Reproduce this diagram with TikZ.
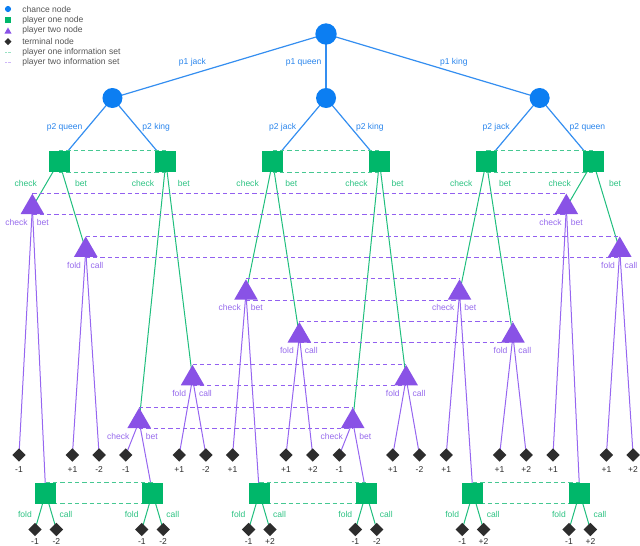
\documentclass[tikz,border=0pt]{standalone}
\usepackage{fontspec}
\setmainfont{Liberation Sans}
\usetikzlibrary{positioning,calc,shapes.geometric,backgrounds}
\definecolor{chanceblue}{RGB}{12,126,242}
\definecolor{chanceline}{RGB}{52,142,240}
\definecolor{chancetext}{RGB}{40,132,236}
\definecolor{onegreen}{RGB}{0,183,106}
\definecolor{oneline}{RGB}{32,190,126}
\definecolor{onetext}{RGB}{44,194,130}
\definecolor{onedash}{RGB}{70,200,146}
\definecolor{twopurple}{RGB}{137,82,230}
\definecolor{twoline}{RGB}{150,102,240}
\definecolor{twotext}{RGB}{150,106,236}
\definecolor{twodash}{RGB}{146,96,240}
\definecolor{termgray}{RGB}{45,45,45}
\definecolor{keygray}{RGB}{85,85,85}
\newcommand{\tagfont}{\fontsize{6.4}{7.5}\selectfont}
\tikzset{%
  chance/.style = {circle,fill=chanceblue,inner sep=0pt,minimum size=15pt},
  pone/.style = {rectangle,fill=onegreen,inner sep=0pt,minimum size=15.75pt},
  ptwo/.style = {regular polygon,regular polygon sides=3,fill=twopurple,
        inner sep=0pt,minimum size=20.4pt},
  term/.style = {diamond,fill=termgray,inner sep=0pt,minimum size=10.2pt},
  chancearrow/.style = {draw=chanceline,line width=0.9pt},
  onearrow/.style = {draw=oneline,line width=0.75pt},
  twoarrow/.style = {draw=twoline,line width=0.75pt},
  oneset/.style = {draw=onedash,line width=0.7pt,dash pattern=on 3.2pt off 2.3pt},
  twoset/.style = {draw=twodash,line width=0.7pt,dash pattern=on 3.2pt off 2.3pt},
  tagL/.style = {anchor=east,inner sep=0pt,xshift=-#1},
  tagR/.style = {anchor=west,inner sep=0pt,xshift=#1},
  chancetag/.style = {text=chancetext},
  onetag/.style = {text=onetext},
  twotag/.style = {text=twotext},
  payoff/.style = {text=termgray,inner sep=0pt},
  keytext/.style = {text=keygray,anchor=west,inner sep=0pt}
}

\begin{document}
\begin{tikzpicture}[x=0.75pt,y=-0.75pt,font=\tagfont]
\useasboundingbox (0,0) rectangle (640,546);

% key
\node[chance,minimum size=4.6pt] (keychance) at (8,9) {};
\node[pone,minimum size=4.6pt] (keyone) at (8,20) {};
\node[ptwo,minimum size=6.2pt] (keytwo) at (8,31.6) {};
\node[term,minimum size=5.4pt] (keyterm) at (8,41.7) {};
\coordinate (keyonea) at (5,52.3);
\coordinate (keyoneb) at (11,52.3);
\coordinate (keytwoa) at (5,62.3);
\coordinate (keytwob) at (11,62.3);
\draw[oneset,draw=onedash!55,dash pattern=on 1.6pt off 1pt] (keyonea) -- (keyoneb);
\draw[twoset,draw=twodash!45,dash pattern=on 1.6pt off 1pt] (keytwoa) -- (keytwob);
\foreach \y/\txt [count=\n] in {9/chance node,20/player one node,
    30.7/player two node,41.7/terminal node,
    52.3/player one information set,62.3/player two information set}
  \node[keytext] (key\n) at (22,\y) {\txt};

% chance nodes
\node[chance,minimum size=16pt] (root) at (326.05,34) {};
\node[chance] (cj) at (112.45,98) {};
\node[chance] (cq) at (326.05,98) {};
\node[chance] (ck) at (539.65,98) {};

% one block per deal: leaves sit on columns 26.7 apart
\foreach \i/\mc/\mb/\vc/\vb/\vd in {1/0/1/-1/-2/-2,2/5/4/-1/-2/-2,
    3/2/3/+1/+2/+2,4/5/4/-1/-2/-2,5/2/3/+1/+2/+2,6/0/1/+1/+2/+2}{
  \pgfmathsetmacro\xleaf{19+106.8*(\i-1)}
  \pgfmathsetmacro\ycheck{207.3+42.8*\mc}
  \pgfmathsetmacro\ybet{207.3+42.8*\mb}
  \pgfmathsetmacro\posac{21.5/(\ycheck-161.5)}
  \pgfmathsetmacro\posab{21.5/(\ybet-161.5)}
  \pgfmathsetmacro\posce{15/(455-\ycheck)}
  \pgfmathsetmacro\poscd{15/(493-\ycheck)}
  \pgfmathsetmacro\posbe{15/(455-\ybet)}
  \node[pone] (a\i) at (\xleaf+40.05,161.5) {};
  \node[ptwo] (tc\i) at (\xleaf+13.35,\ycheck) {};
  \node[ptwo] (tb\i) at (\xleaf+66.75,\ybet) {};
  \node[pone] (d\i) at (\xleaf+26.7,493) {};
  \node[term] (ec\i) at (\xleaf,455) {};
  \node[term] (ef\i) at (\xleaf+53.4,455) {};
  \node[term] (el\i) at (\xleaf+80.1,455) {};
  \node[term] (gf\i) at (\xleaf+16,529.5) {};
  \node[term] (gl\i) at (\xleaf+37.4,529.5) {};
  \node[payoff,below=3.4pt of ec\i] (vec\i) {\vc};
  \node[payoff,below=3.4pt of ef\i] (vef\i) {+1};
  \node[payoff,below=3.4pt of el\i] (vel\i) {\vb};
  \node[payoff,below=1.4pt of gf\i] (vgf\i) {-1};
  \node[payoff,below=1.4pt of gl\i] (vgl\i) {\vd};
  \begin{scope}[on background layer]
    \draw[onearrow] (a\i.center) -- (tc\i.center)
      node[pos=\posac,onetag,tagL=6.75pt] {check};
    \draw[onearrow] (a\i.center) -- (tb\i.center)
      node[pos=\posab,onetag,tagR=6.75pt] {bet};
    \draw[twoarrow] (tc\i.center) -- (ec\i.center)
      node[pos=\posce,twotag,tagL=2.5pt] {check};
    \draw[twoarrow] (tc\i.center) -- (d\i.center)
      node[pos=\poscd,twotag,tagR=2.5pt] {bet};
    \draw[twoarrow] (tb\i.center) -- (ef\i.center)
      node[pos=\posbe,twotag,tagL=2.5pt] {fold};
    \draw[twoarrow] (tb\i.center) -- (el\i.center)
      node[pos=\posbe,twotag,tagR=2.5pt] {call};
    \draw[onearrow] (d\i.center) -- (gf\i.center)
      node[pos=0.595,onetag,tagL=5.25pt] {fold};
    \draw[onearrow] (d\i.center) -- (gl\i.center)
      node[pos=0.595,onetag,tagR=5.25pt] {call};
  \end{scope}
}

\begin{scope}[on background layer]
  \draw[chancearrow] (root.center) -- (cj.center)
    node[pos=0.4375,chancetag,tagL=19.5pt] {p1 jack};
  \draw[chancearrow] (root.center) -- (cq.center)
    node[pos=0.4375,chancetag,tagL=3pt] {p1 queen};
  \draw[chancearrow] (root.center) -- (ck.center)
    node[pos=0.4375,chancetag,tagR=15pt] {p1 king};
  \draw[chancearrow] (cj.center) -- (a1.center)
    node[pos=0.457,chancetag,tagL=3.75pt] {p2 queen};
  \draw[chancearrow] (cj.center) -- (a2.center)
    node[pos=0.457,chancetag,tagR=3.75pt] {p2 king};
  \draw[chancearrow] (cq.center) -- (a3.center)
    node[pos=0.457,chancetag,tagL=3.75pt] {p2 jack};
  \draw[chancearrow] (cq.center) -- (a4.center)
    node[pos=0.457,chancetag,tagR=3.75pt] {p2 king};
  \draw[chancearrow] (ck.center) -- (a5.center)
    node[pos=0.457,chancetag,tagL=3.75pt] {p2 jack};
  \draw[chancearrow] (ck.center) -- (a6.center)
    node[pos=0.457,chancetag,tagR=3.75pt] {p2 queen};
  % information sets
  \foreach \l/\r in {a1/a2,a3/a4,a5/a6,d1/d2,d3/d4,d5/d6}
    \draw[oneset] (\l.north) -- (\r.north) (\l.south) -- (\r.south);
  \foreach \l/\r in {tc1/tc6,tb1/tb6,tc3/tc5,tb3/tb5,tc2/tc4,tb2/tb4}
    \draw[twoset] (\l.north) -- (\r.north) (\l.south) -- (\r.south);
\end{scope}
\end{tikzpicture}
\end{document}
